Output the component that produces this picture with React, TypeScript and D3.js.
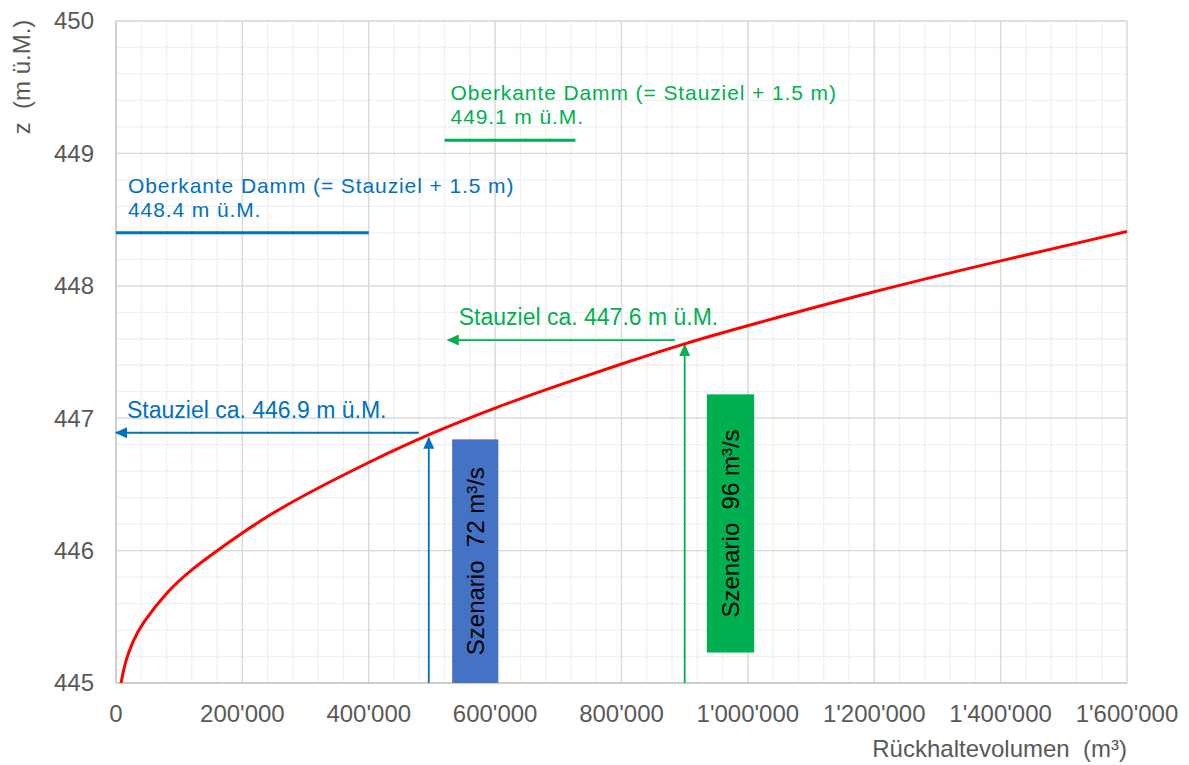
import React from 'react';
import * as d3 from 'd3';

// Speicherkurve: Rückhaltevolumen (m³) -> Wasserspiegel z (m ü.M.)
const volumes = [8000, 15000, 27000, 40000, 80000, 120000, 160000, 200000, 240000, 290000, 400000, 500000, 600000, 700000, 800000, 900000, 1000000, 1200000, 1400000, 1600000];
const levels = [445.0, 445.17, 445.32, 445.44, 445.69, 445.86, 446.0, 446.135, 446.26, 446.4, 446.67, 446.89, 447.08, 447.25, 447.41, 447.565, 447.7, 447.96, 448.19, 448.41];

const xTicks = [0, 200000, 400000, 600000, 800000, 1000000, 1200000, 1400000, 1600000];
const yTicks = [445, 446, 447, 448, 449, 450];

// Szenarien
const scenarioNames = ['Szenario  72 m³/s', 'Szenario  96 m³/s'];
const scenarioVolumes = [495000, 900000];
const scenarioLevels = [446.89, 447.59];
const stauzielLabels = ['Stauziel ca. 446.9 m ü.M.', 'Stauziel ca. 447.6 m ü.M.'];
const damLevels = [448.4, 449.1];
const damLabels = ['448.4 m ü.M.', '449.1 m ü.M.'];
const damFrom = [0, 520000];
const damTo = [400000, 727000];
const arrowTo = [0, 525000];
const boxFrom = [532000, 935000];
const boxTo = [605000, 1010000];
const boxTop = [446.84, 447.18];
const boxBottom = [445.0, 445.23];
const colors = ['#0070C0', '#00B050'];
const boxColors = ['#4472C4', '#00B050'];

const width = 1189;
const height = 765;
const margin = { left: 116, right: 62, top: 21, bottom: 82 };
const font = '"Liberation Sans", Arial, sans-serif';

const fmt = (v: number) => d3.format(',')(v).replace(/,/g, "'");

export default function App() {
  const chartW = width - margin.left - margin.right;
  const chartH = height - margin.top - margin.bottom;
  const x = d3.scaleLinear().domain([0, 1600000]).range([0, chartW]);
  const y = d3.scaleLinear().domain([445, 450]).range([chartH, 0]);

  const minorX = d3.range(0, 1600001, 40000);
  const minorY = d3.range(445, 450.001, 0.2);

  const line = d3.line<number>()
    .x((_, i) => x(volumes[i]))
    .y((d) => y(d))
    .curve(d3.curveBasis);

  return (
    <svg width={width} height={height} style={{ position: 'absolute', left: 0, top: 0 }} fontFamily={font}>
      <defs>
        {colors.map((c, i) => (
          <marker key={i} id={`arr${i}`} viewBox="0 0 12 12" refX="11" refY="6" markerWidth="12" markerHeight="12" orient="auto-start-reverse" markerUnits="userSpaceOnUse">
            <path d="M0,0.5 L12,6 L0,11.5 z" fill={c} />
          </marker>
        ))}
      </defs>
      <g transform={`translate(${margin.left},${margin.top})`}>
        {minorX.map((v) => (
          <line key={`mx${v}`} x1={x(v)} x2={x(v)} y1={0} y2={chartH} stroke="#f0f0f0" strokeWidth={1.3} />
        ))}
        {minorY.map((v) => (
          <line key={`my${v}`} x1={0} x2={chartW} y1={y(v)} y2={y(v)} stroke="#f0f0f0" strokeWidth={1.3} />
        ))}
        {xTicks.map((v) => (
          <line key={`gx${v}`} x1={x(v)} x2={x(v)} y1={0} y2={chartH} stroke="#d9d9d9" strokeWidth={1.3} />
        ))}
        {yTicks.map((v) => (
          <line key={`gy${v}`} x1={0} x2={chartW} y1={y(v)} y2={y(v)} stroke="#d9d9d9" strokeWidth={1.3} />
        ))}
        <line x1={0} x2={0} y1={0} y2={chartH} stroke="#c8c8c8" strokeWidth={1.5} />
        <line x1={0} x2={chartW} y1={chartH} y2={chartH} stroke="#c8c8c8" strokeWidth={1.5} />

        {yTicks.map((v) => (
          <text key={`ty${v}`} x={-22} y={y(v)} dy="0.35em" textAnchor="end" fontSize={24} fill="#595959">{v}</text>
        ))}
        {xTicks.map((v) => (
          <text key={`tx${v}`} x={x(v)} y={chartH + 39} textAnchor="middle" fontSize={24} fill="#595959">{fmt(v)}</text>
        ))}
        <text x={chartW} y={chartH + 74} textAnchor="end" fontSize={24} fill="#595959" style={{ whiteSpace: 'pre' }}>Rückhaltevolumen  (m³)</text>
        <text transform={`translate(${-86},${56}) rotate(-90)`} textAnchor="middle" fontSize={24} fill="#595959" style={{ whiteSpace: 'pre' }}>z  (m ü.M.)</text>

        {scenarioNames.map((name, i) => (
          <g key={name}>
            <rect x={x(boxFrom[i])} y={y(boxTop[i])} width={x(boxTo[i]) - x(boxFrom[i])} height={y(boxBottom[i]) - y(boxTop[i])} fill={boxColors[i]} />
            <text transform={`translate(${(x(boxFrom[i]) + x(boxTo[i])) / 2},${(y(boxTop[i]) + y(boxBottom[i])) / 2}) rotate(-90)`} textAnchor="middle" dy="0.35em" fontSize={24} fill="#000" style={{ whiteSpace: 'pre' }}>{name}</text>
            <line x1={x(scenarioVolumes[i])} x2={x(scenarioVolumes[i])} y1={chartH} y2={y(scenarioLevels[i]) + 5} stroke={colors[i]} strokeWidth={1.8} markerEnd={`url(#arr${i})`} />
            <line x1={x(scenarioVolumes[i]) - 10} x2={x(arrowTo[i])} y1={y(scenarioLevels[i])} y2={y(scenarioLevels[i])} stroke={colors[i]} strokeWidth={1.8} markerEnd={`url(#arr${i})`} />
            <text x={x(arrowTo[i]) + 11} y={y(scenarioLevels[i]) - 15} fontSize={23} fill={colors[i]}>{stauzielLabels[i]}</text>
            <line x1={x(damFrom[i])} x2={x(damTo[i])} y1={y(damLevels[i])} y2={y(damLevels[i])} stroke={colors[i]} strokeWidth={3} />
            <text x={x(damFrom[i]) + (i === 0 ? 12 : 6)} y={y(damLevels[i]) - 40} fontSize={21} letterSpacing={0.9} fill={colors[i]}>Oberkante Damm (= Stauziel + 1.5 m)</text>
            <text x={x(damFrom[i]) + (i === 0 ? 12 : 6)} y={y(damLevels[i]) - 16} fontSize={21} letterSpacing={0.9} fill={colors[i]}>{damLabels[i]}</text>
          </g>
        ))}

        <path d={line(levels) ?? ''} fill="none" stroke="#FF0000" strokeWidth={3} />
      </g>
    </svg>
  );
}
